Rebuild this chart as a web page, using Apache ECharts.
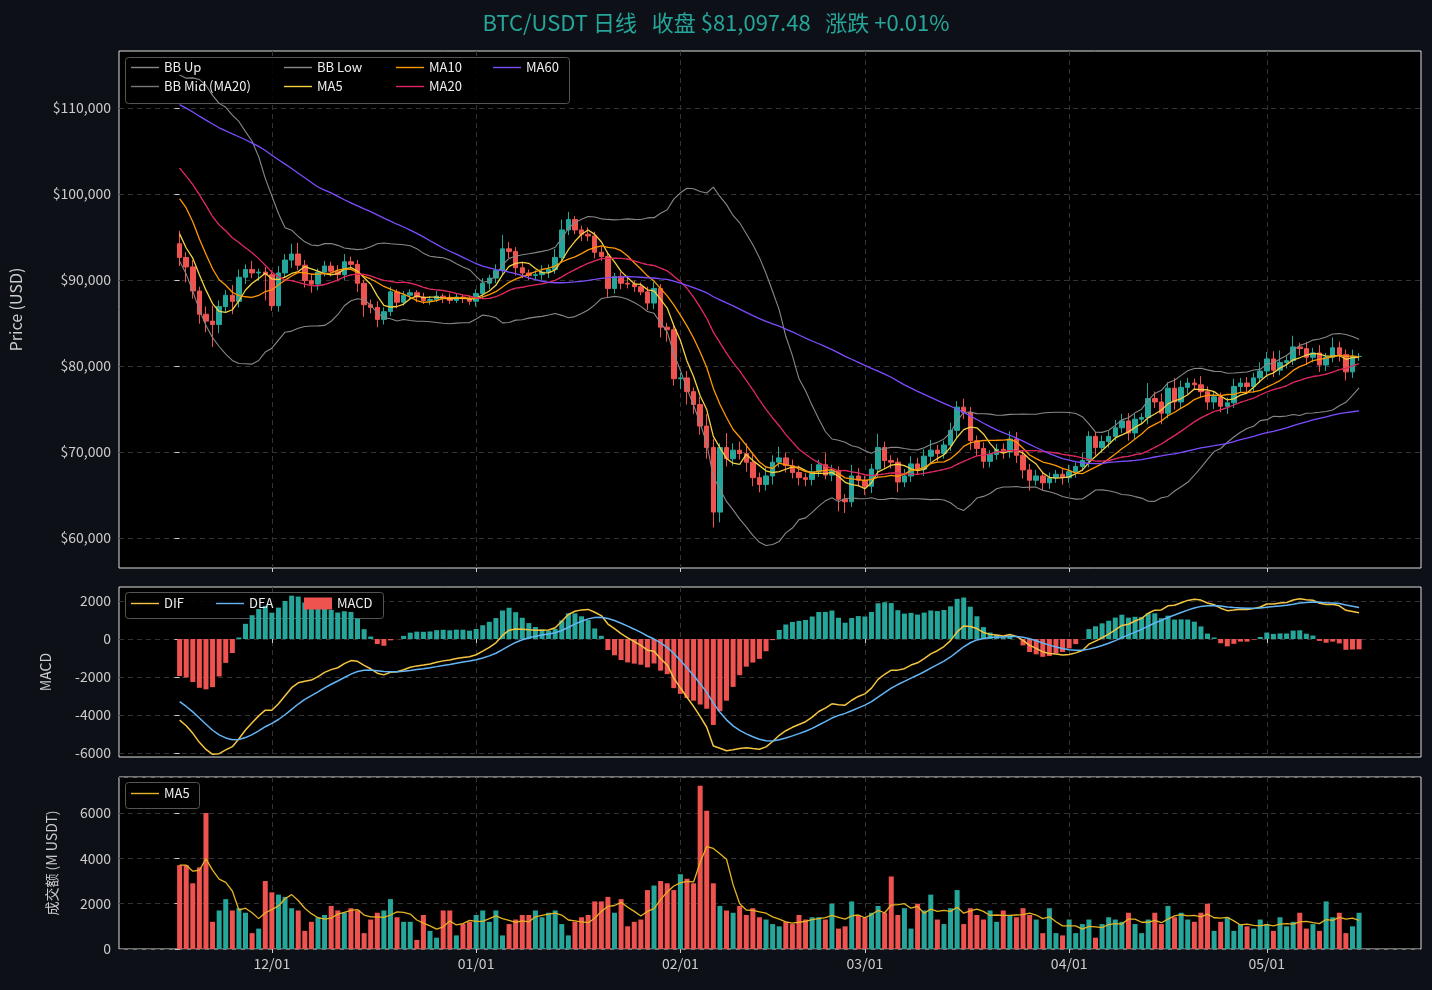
<!DOCTYPE html>
<html>
<head>
<meta charset="utf-8">
<script src="https://cdn.jsdelivr.net/npm/echarts@6/dist/echarts.min.js"></script>
<style>
html,body{margin:0;padding:0;background:#0d1117;}
#chart1{width:1432px;height:990px;}
</style>
</head>
<body>
<div id="chart1"></div>
<script>
// closes in thousands USD; day 0 = 11/17
var priorCloses = [117.1,115.7,115.7,115.3,112.7,112.0,113.3,109.0,109.6,109.7,112.1,114.4,114.0,
  118.6,120.6,122.3,122.4,123.5,124.7,121.4,123.3,121.7,113.2,110.8,115.2,115.3,113.1,110.8,108.2,106.5,107.2,108.7,110.6,108.5,107.6,110.1,111.0,111.7,114.6,114.1,113.0,110.1,108.3,109.6,
  110.1,110.6,106.5,101.6,103.9,101.3,103.4,102.3,104.7,106.0,103.0,101.6,99.7,94.6,95.6,94.2];
var closes = [
  92.6,91.5,88.7,86.0,85.2,84.8,86.9,88.2,87.5,90.3,91.2,90.8,90.9,90.6,
  87.0,90.8,92.3,93.0,91.7,89.9,89.5,90.9,91.6,91.0,90.6,92.1,91.8,89.6,87.1,86.8,85.4,86.3,88.6,87.4,88.2,88.5,88.0,87.6,87.7,88.1,87.9,87.6,88.0,87.8,87.5,
  88.4,89.6,90.2,91.1,93.6,93.3,91.4,90.8,90.5,90.6,90.9,91.2,92.6,95.8,97.0,95.8,95.3,95.1,93.2,92.7,89.0,90.4,89.6,89.5,89.2,88.6,87.3,89.0,84.5,84.2,78.5,
  78.6,77.0,75.5,73.0,70.5,63.0,70.5,69.2,70.2,69.8,68.8,67.0,66.2,67.2,68.8,69.3,68.4,67.6,67.0,66.8,67.7,68.5,67.3,67.8,64.5,64.2,67.2,66.7,
  66.0,68.0,70.5,69.0,68.8,66.5,67.2,68.6,68.0,69.5,70.2,69.8,70.8,72.5,75.2,74.6,71.3,70.4,68.9,69.7,70.3,70.0,71.5,69.6,67.9,66.7,67.2,66.4,67.0,67.4,67.0,
  67.7,68.3,69.0,71.8,70.5,71.2,71.8,72.8,73.6,72.2,73.8,74.0,76.2,75.8,74.5,77.4,75.8,77.5,78.0,77.8,77.0,75.8,76.4,75.3,75.7,77.6,78.0,77.6,78.6,79.4,
  80.8,79.5,80.4,80.6,82.2,82.0,81.0,81.5,80.1,81.0,82.1,81.3,79.3,81.089,81.09748];
var wickHi = [
  1.5,0.6,0.8,0.5,0.9,1.8,0.7,0.6,1.2,0.9,0.6,1.0,0.4,0.6,
  0.5,0.8,0.7,1.2,1.3,0.6,0.8,0.4,0.6,0.5,0.7,0.9,0.6,0.5,0.4,0.6,0.7,0.5,0.6,0.3,0.5,0.4,0.3,0.5,0.4,0.6,0.3,0.5,0.4,0.3,0.4,
  0.5,0.6,0.4,0.7,1.6,0.8,0.5,0.6,0.4,0.5,0.8,0.6,1.0,1.2,0.9,0.4,0.5,0.8,0.5,0.7,0.6,0.4,0.5,0.9,0.4,0.5,0.6,0.8,0.5,0.5,0.7,
  0.6,0.8,0.5,0.9,1.4,1.0,0.5,1.7,0.8,1.0,1.2,0.9,0.6,1.0,0.8,1.3,0.6,0.7,0.8,0.5,0.9,0.6,1.4,0.7,0.5,0.6,1.3,0.9,
  0.5,0.6,1.6,0.7,0.6,0.5,0.8,0.9,0.7,0.8,1.2,0.6,0.5,0.9,0.7,1.0,0.6,0.6,0.7,0.5,0.6,0.7,0.9,0.8,0.6,0.7,0.7,0.5,0.6,0.5,0.6,
  0.8,0.5,0.9,0.6,0.5,0.7,0.6,0.9,0.8,0.9,0.6,0.5,1.8,0.8,1.0,0.7,1.2,0.8,0.6,0.5,1.0,0.6,0.7,0.5,0.6,0.9,0.6,0.7,0.6,1.0,
  0.8,0.9,1.4,0.6,1.3,0.5,0.8,0.6,0.9,0.5,1.2,0.7,0.6,0.8,0.4];
var wickLo = [
  1.0,1.8,0.9,1.1,1.3,2.6,1.0,0.7,1.5,0.7,0.8,0.6,0.9,3.0,
  0.6,0.7,0.5,0.9,0.6,0.8,1.0,0.7,0.5,0.6,0.8,0.6,0.5,1.0,1.4,0.7,0.9,0.6,0.5,0.7,0.4,0.5,0.6,0.4,0.5,0.3,0.6,0.4,0.3,0.5,0.4,
  0.6,0.5,0.7,0.6,0.5,0.8,0.9,0.6,0.5,0.4,0.6,0.7,0.5,0.4,0.6,0.5,0.8,0.6,0.7,0.5,1.1,0.6,0.7,0.5,0.6,0.4,0.8,0.7,1.2,1.4,0.8,
  1.2,1.5,1.1,1.0,1.3,1.8,1.2,0.9,0.8,0.7,1.1,1.0,0.9,0.7,1.0,0.6,0.8,0.7,0.9,0.8,0.7,0.6,0.5,0.7,1.4,1.3,0.6,0.7,
  1.0,0.8,0.9,1.0,0.7,1.2,0.6,0.7,0.6,0.8,0.7,0.9,0.6,0.7,1.0,0.8,1.1,0.9,0.8,0.7,0.6,0.8,0.7,0.9,1.0,1.2,0.6,0.9,0.7,0.6,0.8,
  0.6,0.7,0.5,0.8,0.9,0.6,0.7,0.5,0.6,0.9,0.7,0.6,0.8,0.7,1.3,0.6,0.9,0.7,0.8,0.6,0.7,0.9,0.8,0.7,0.9,0.6,0.7,0.8,0.7,0.6,
  0.7,0.8,0.6,0.7,0.5,0.8,0.9,0.6,0.8,0.7,0.6,0.8,1.0,0.7,0.5];
var firstOpen = 94.2;
// volume, M USDT
var volumes = [
  3700,3700,2900,3600,6000,1200,1700,2200,1700,1800,1600,700,900,3000,
  2500,2400,2300,1800,1700,800,1200,1400,1500,1900,1700,1600,1800,1700,700,1300,1600,1700,2200,1400,1200,1200,400,1500,800,500,1700,1700,600,1100,1200,
  1500,1700,1200,1700,600,1100,1300,1500,1500,1700,1400,1600,1700,1100,600,1200,1400,1500,2100,2100,2300,1600,2200,1000,1200,1300,2600,2800,3000,2900,2600,
  3300,3100,2900,7200,6100,2900,1900,1700,1600,1900,1500,1800,1400,1300,1100,1000,1200,1100,1500,1300,1400,1400,1300,2000,900,1000,2100,1500,
  1400,1600,1900,1600,3200,1500,1800,900,2000,1700,2400,1300,1100,1800,2600,1100,1800,1500,1300,1700,1200,1700,1500,1400,1800,1500,1300,700,1800,700,600,
  1300,700,1100,1300,500,1100,1400,1300,1200,1600,1100,700,1300,1600,1100,1900,1400,1600,1300,1200,1600,2000,800,1200,1400,800,1100,1000,900,1300,
  1100,800,1400,1000,1200,1600,900,1100,800,2100,1400,1600,700,1000,1600];
var monthTicks = [14, 45, 76, 104, 135, 165];
var monthLabels = ['12/01', '01/01', '02/01', '03/01', '04/01', '05/01'];
var priceTicks = [60000, 70000, 80000, 90000, 100000, 110000];
var macdTicks = [-6000, -4000, -2000, 0, 2000];

var UP = '#26a69a', DOWN = '#ef5350';
var all = priorCloses.concat(closes).map(function (v) { return v * 1000; });
var P = priorCloses.length, N = closes.length;

function sma(i, n) { var s = 0; for (var k = i - n + 1; k <= i; k++) s += all[k]; return s / n; }
function sd(i, n) { var m = sma(i, n), s = 0; for (var k = i - n + 1; k <= i; k++) s += (all[k] - m) * (all[k] - m); return Math.sqrt(s / n); }
var ema12 = [], ema26 = [], difAll = [], deaAll = [];
all.forEach(function (v, i) {
  ema12[i] = i ? ema12[i - 1] + (v - ema12[i - 1]) * 2 / 13 : v;
  ema26[i] = i ? ema26[i - 1] + (v - ema26[i - 1]) * 2 / 27 : v;
  difAll[i] = ema12[i] - ema26[i];
  deaAll[i] = i ? deaAll[i - 1] + (difAll[i] - deaAll[i - 1]) * 2 / 10 : difAll[i];
});

var candles = [], vol = [], ma5 = [], ma10 = [], ma20 = [], ma60 = [], bbUp = [], bbLow = [], bbBand = [];
var dif = [], dea = [], hist = [], volMa = [];
for (var i = 0; i < N; i++) {
  var j = i + P;
  var c = all[j], o = i ? all[j - 1] : firstOpen * 1000;
  var h = Math.max(o, c) + wickHi[i] * 1000, l = Math.min(o, c) - wickLo[i] * 1000;
  candles.push([i, o, c, l, h]);
  vol.push({ value: [i, volumes[i]], itemStyle: { color: c >= o ? UP : DOWN } });
  ma5.push([i, sma(j, 5)]); ma10.push([i, sma(j, 10)]); ma20.push([i, sma(j, 20)]); ma60.push([i, sma(j, 60)]);
  var s = sd(j, 20);
  bbUp.push([i, sma(j, 20) + 2 * s]); bbLow.push([i, sma(j, 20) - 2 * s]); bbBand.push([i, 4 * s]);
  dif.push([i, difAll[j]]); dea.push([i, deaAll[j]]);
  var m = 2 * (difAll[j] - deaAll[j]);
  hist.push({ value: [i, m], itemStyle: { color: m >= 0 ? UP : DOWN } });
  var k0 = Math.max(0, i - 4), sv = 0;
  for (var k = k0; k <= i; k++) sv += volumes[k];
  volMa.push([i, sv / (i - k0 + 1)]);
}

var myChart = echarts.init(document.getElementById('chart1'));
var FONT = 'Noto Sans CJK SC';
var LINE_ICON = 'path://M0,5h28v1.4h-28z';
var grids = [
  { left: 119, right: 11, top: 51, height: 517 },
  { left: 119, right: 11, top: 587, height: 170 },
  { left: 119, right: 11, top: 777, height: 172 }
];
grids.forEach(function (g) { g.show = true; g.backgroundColor = '#000'; g.borderColor = '#ddd'; g.borderWidth = 1; });
var split = { show: true, lineStyle: { color: '#333', type: [5, 4] } };

function xAx(idx, showLabel) {
  return {
    type: 'value', gridIndex: idx, min: -9.2, max: 188.4,
    axisLine: { show: false },
    axisTick: { show: true, customValues: monthTicks, lineStyle: { color: '#ccc' }, length: 4 },
    axisLabel: {
      show: showLabel, customValues: monthTicks, color: '#ccc', fontSize: 14, fontFamily: FONT,
      formatter: function (v) { return monthLabels[monthTicks.indexOf(v)]; }
    },
    splitLine: split
  };
}
function line(name, data, color, xi, width, dash) {
  return {
    name: name, type: 'line', data: data, xAxisIndex: xi, yAxisIndex: xi, showSymbol: false,
    lineStyle: { color: color, width: width || 1.3, type: dash || 'solid' }, itemStyle: { color: color }, z: 3
  };
}
function leg(left, top, data, extra) {
  return Object.assign({
    left: left, top: top, orient: 'vertical', itemGap: 6, itemWidth: 28, itemHeight: 12, icon: LINE_ICON,
    padding: 0, data: data, textStyle: { color: '#eee', fontSize: 13 }, z: 20
  }, extra || {});
}
function box(x, y, w, h) {
  return { type: 'rect', left: x, top: y, z: 1, silent: true, shape: { width: w, height: h, r: 3 },
    style: { fill: 'rgba(0,0,0,0.85)', stroke: '#555', lineWidth: 1 } };
}

option = {
  backgroundColor: '#0d1117',
  animation: false,
  textStyle: { fontFamily: FONT },
  title: {
    text: 'BTC/USDT 日线\u00a0\u00a0 收盘 $81,097.48\u00a0\u00a0 涨跌 +0.01%', left: 'center', top: 7,
    textStyle: { color: '#26a69a', fontSize: 22, fontWeight: 'normal', fontFamily: FONT }
  },
  graphic: { z: 10, elements: [box(125, 57, 444, 46), box(125, 592, 258, 26), box(125, 782, 74, 26)] },
  legend: [
    leg(131, 61, ['BB Up', 'BB Mid (MA20)']),
    leg(284, 61, ['BB Low', 'MA5']),
    leg(396, 61, ['MA10', 'MA20']),
    leg(493, 61, ['MA60']),
    leg(131, 597, ['DIF']),
    leg(216, 597, ['DEA']),
    leg(304, 597, [{ name: 'MACD', icon: 'rect' }]),
    leg(131, 787, ['量MA5'], { formatter: function () { return 'MA5'; } })
  ],
  grid: grids,
  xAxis: [xAx(0, false), xAx(1, false), xAx(2, true)],
  yAxis: [
    {
      gridIndex: 0, type: 'value', min: 56500, max: 116600, name: 'Price (USD)', nameLocation: 'middle', nameGap: 95,
      nameTextStyle: { color: '#ccc', fontSize: 16 },
      axisLine: { show: false }, axisTick: { show: true, customValues: priceTicks, lineStyle: { color: '#ccc' } },
      axisLabel: { customValues: priceTicks, color: '#ccc', fontSize: 14, formatter: function (v) { return '$' + v.toLocaleString('en-US'); } },
      splitLine: split
    },
    {
      gridIndex: 1, type: 'value', min: -6210, max: 2737, name: 'MACD', nameLocation: 'middle', nameGap: 66,
      nameTextStyle: { color: '#ccc', fontSize: 14 },
      axisLine: { show: false }, axisTick: { show: true, customValues: macdTicks, lineStyle: { color: '#ccc' } },
      axisLabel: { customValues: macdTicks, color: '#ccc', fontSize: 14, formatter: function (v) { return String(v); } },
      splitLine: split
    },
    {
      gridIndex: 2, type: 'value', min: 0, max: 7590, interval: 2000, name: '成交额 (M USDT)', nameLocation: 'middle', nameGap: 60,
      nameTextStyle: { color: '#ccc', fontSize: 14 },
      axisLine: { show: false }, axisTick: { show: true, lineStyle: { color: '#ccc' } },
      axisLabel: { color: '#ccc', fontSize: 14, showMaxLabel: false, formatter: function (v) { return String(v); } },
      splitLine: split
    }
  ],
  series: [
    { name: 'bbBase', type: 'line', data: bbLow, stack: 'bb', showSymbol: false, lineStyle: { width: 0 }, silent: true },
    { name: 'bbFill', type: 'line', data: bbBand, stack: 'bb', showSymbol: false, lineStyle: { width: 0 }, silent: true,
      areaStyle: { color: 'rgba(255,255,255,0.05)' } },
    line('BB Up', bbUp, '#888', 0, 1.1),
    line('BB Low', bbLow, '#888', 0, 1.1),
    line('BB Mid (MA20)', ma20, '#777', 0, 0.8, [3, 3]),
    {
      name: 'K', type: 'candlestick', data: candles, encode: { x: 0, y: [1, 2, 3, 4] }, barWidth: 5, z: 2,
      itemStyle: { color: UP, color0: DOWN, borderColor: UP, borderColor0: DOWN, borderWidth: 1 }
    },
    line('MA5', ma5, '#f5d142', 0),
    line('MA10', ma10, '#ff9800', 0),
    line('MA20', ma20, '#e0245e', 0),
    line('MA60', ma60, '#7c4dff', 0),
    { name: 'MACD', type: 'bar', data: hist, xAxisIndex: 1, yAxisIndex: 1, barWidth: 5, itemStyle: { color: DOWN } },
    line('DIF', dif, '#f5c542', 1, 1.5),
    line('DEA', dea, '#64b5f6', 1, 1.5),
    { name: 'vol', type: 'bar', data: vol, xAxisIndex: 2, yAxisIndex: 2, barWidth: 5 },
    line('量MA5', volMa, '#e6b422', 2, 1.3)
  ]
};
myChart.setOption(option);
</script>
</body>
</html>
